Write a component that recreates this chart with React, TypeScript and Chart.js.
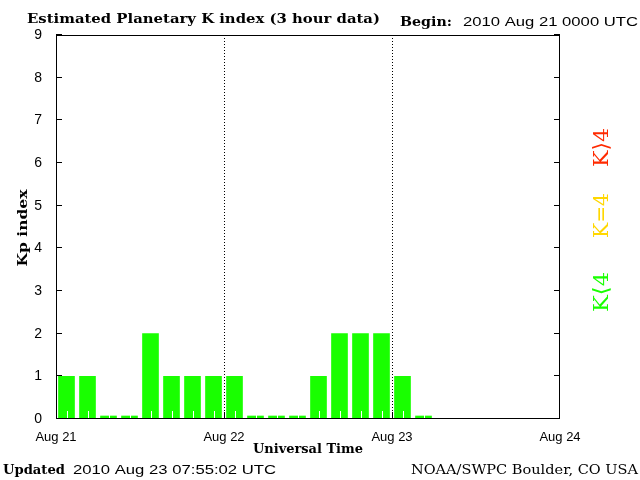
import React, { useEffect, useRef } from "react";
import { Chart, registerables } from "chart.js";
Chart.register(...registerables);

// ---- data ----
const dayLabels = ["Aug 21", "Aug 22", "Aug 23", "Aug 24"];
const slotsPerDay = 8; // 3-hour intervals per day
const kpValues: (number | null)[] = [
  1, 1, 0, 0, 2, 1, 1, 1,
  1, 0, 0, 0, 1, 2, 2, 2,
  1, 0, null, null, null, null, null, null,
];
const yMin = 0;
const yMax = 9;
const titleText = "Estimated Planetary K index (3 hour data)";
const beginLabel = "Begin:";
const beginText = "2010 Aug 21 0000 UTC";
const updatedLabel = "Updated";
const updatedText = "2010 Aug 23 07:55:02 UTC";
const sourceText = "NOAA/SWPC Boulder, CO USA";
const yTitle = "Kp index";
const xTitle = "Universal Time";
const legendItems = [
  { text: "K\u27E94", color: "#ff2a00" },
  { text: "K=4", color: "#ffd700" },
  { text: "K\u27E84", color: "#19ff00" },
];

const BAR_COLOR = "#19ff00";
const SERIF = "'DejaVu Serif', 'Liberation Serif', serif";
const SANS = "'Liberation Sans', Arial, sans-serif";

function fillFit(
  ctx: CanvasRenderingContext2D,
  text: string,
  x: number,
  y: number,
  width: number,
  font: string,
  color: string,
  align: CanvasTextAlign = "left",
  rotate = 0
) {
  ctx.save();
  ctx.font = font;
  ctx.fillStyle = color;
  ctx.textBaseline = "alphabetic";
  ctx.textAlign = align;
  const w = ctx.measureText(text).width;
  ctx.translate(x, y);
  if (rotate) ctx.rotate(rotate);
  ctx.scale(width / w, 1);
  ctx.fillText(text, 0, 0);
  ctx.restore();
}

const kpPlugin = {
  id: "kpDecor",
  beforeDatasetsDraw(chart: any) {
    const { ctx, chartArea, scales } = chart;
    ctx.save();
    ctx.strokeStyle = "#000";
    ctx.lineWidth = 1;
    ctx.setLineDash([1, 2]);
    for (let d = 1; d < dayLabels.length - 1; d++) {
      const px = Math.round(scales.x.getPixelForValue(d * slotsPerDay)) + 0.5;
      ctx.beginPath();
      ctx.moveTo(px, chartArea.top);
      ctx.lineTo(px, chartArea.bottom);
      ctx.stroke();
    }
    ctx.restore();
  },
  afterDatasetsDraw(chart: any) {
    const { ctx, chartArea, scales } = chart;
    const { left, right, top, bottom } = chartArea;
    ctx.save();
    // white minor ticks at each 3-hour slot centre
    ctx.strokeStyle = "#fff";
    ctx.lineWidth = 1;
    kpValues.forEach((v, i) => {
      if (v === null) return;
      const px = Math.round(scales.x.getPixelForValue(i + 0.5)) + 0.5;
      ctx.beginPath();
      ctx.moveTo(px, bottom);
      ctx.lineTo(px, bottom - 8);
      ctx.stroke();
    });
    // frame
    ctx.strokeStyle = "#000";
    ctx.lineWidth = 1;
    ctx.strokeRect(Math.round(left) + 0.5, Math.round(top) + 0.5, Math.round(right - left) - 1, Math.round(bottom - top) - 1);
    // y ticks, inner on both sides
    for (let v = yMin; v <= yMax; v++) {
      const py = Math.round(scales.y.getPixelForValue(v)) - 0.5;
      ctx.beginPath();
      ctx.moveTo(left, py);
      ctx.lineTo(left + 6, py);
      ctx.moveTo(right, py);
      ctx.lineTo(right - 6, py);
      ctx.stroke();
    }
    // x day ticks
    for (let d = 1; d < dayLabels.length - 1; d++) {
      const px = Math.round(scales.x.getPixelForValue(d * slotsPerDay)) + 0.5;
      ctx.beginPath();
      ctx.moveTo(px, bottom);
      ctx.lineTo(px, bottom - 7);
      ctx.stroke();
    }
    ctx.restore();
  },
  afterDraw(chart: any) {
    const { ctx } = chart;
    fillFit(ctx, titleText, 27, 23, 353, `bold 13px ${SERIF}`, "#000");
    fillFit(ctx, beginLabel, 400, 26, 52, `bold 13px ${SERIF}`, "#000");
    fillFit(ctx, beginText, 463, 26, 175, `13px ${SANS}`, "#000");
    fillFit(ctx, yTitle, 27, 228, 77, `bold 13px ${SERIF}`, "#000", "center", -Math.PI / 2);
    fillFit(ctx, xTitle, 253, 453, 110, `bold 13px ${SERIF}`, "#000");
    fillFit(ctx, updatedLabel, 3, 474, 62, `bold 13px ${SERIF}`, "#000");
    fillFit(ctx, updatedText, 73, 474, 203, `13px ${SANS}`, "#000");
    fillFit(ctx, sourceText, 411, 474, 227, `13px ${SERIF}`, "#000");
    const centers = [147.5, 215.5, 292];
    const lengths = [39, 45, 40];
    legendItems.forEach((it, i) => {
      fillFit(ctx, it.text, 608, centers[i], lengths[i], `21px ${SERIF}`, it.color, "center", -Math.PI / 2);
    });
  },
};

export default function App() {
  const ref = useRef<HTMLCanvasElement | null>(null);
  useEffect(() => {
    if (!ref.current) return;
    const chart = new Chart(ref.current, {
      type: "bar",
      data: {
        datasets: [
          {
            data: kpValues.map((v, i) => ({ x: i + 0.5, y: v })) as any,
            backgroundColor: BAR_COLOR,
            borderWidth: 0,
            barThickness: 16,
            minBarLength: 3,
          },
        ],
      },
      options: {
        animation: false,
        responsive: false,
        maintainAspectRatio: false,
        devicePixelRatio: 1,
        layout: { padding: { top: 35, right: 80, left: 0, bottom: 0 } },
        plugins: { legend: { display: false }, tooltip: { enabled: false }, title: { display: false } },
        scales: {
          x: {
            type: "linear",
            min: 0,
            max: dayLabels.length * slotsPerDay - slotsPerDay,
            offset: false,
            grid: { display: false },
            border: { display: false },
            ticks: {
              stepSize: slotsPerDay,
              autoSkip: false,
              maxRotation: 0,
              padding: 3,
              color: "#000",
              font: { family: "'Liberation Sans', Arial, sans-serif", size: 13 },
              callback: (v: any) => dayLabels[Math.round(Number(v) / slotsPerDay)] ?? "",
            },
            afterFit: (s: any) => {
              s.height = 61;
            },
          },
          y: {
            min: yMin,
            max: yMax,
            grid: { display: false },
            border: { display: false },
            ticks: {
              stepSize: 1,
              padding: 6,
              color: "#000",
              font: { family: "'Liberation Sans', Arial, sans-serif", size: 14 },
            },
            afterFit: (s: any) => {
              s.width = 56;
            },
          },
        },
      },
      plugins: [kpPlugin],
    });
    return () => chart.destroy();
  }, []);
  return (
    <div style={{ position: "absolute", left: 0, top: 0, width: 640, height: 480, background: "#fff" }}>
      <canvas ref={ref} width={640} height={480} style={{ display: "block", width: 640, height: 480 }} />
    </div>
  );
}
